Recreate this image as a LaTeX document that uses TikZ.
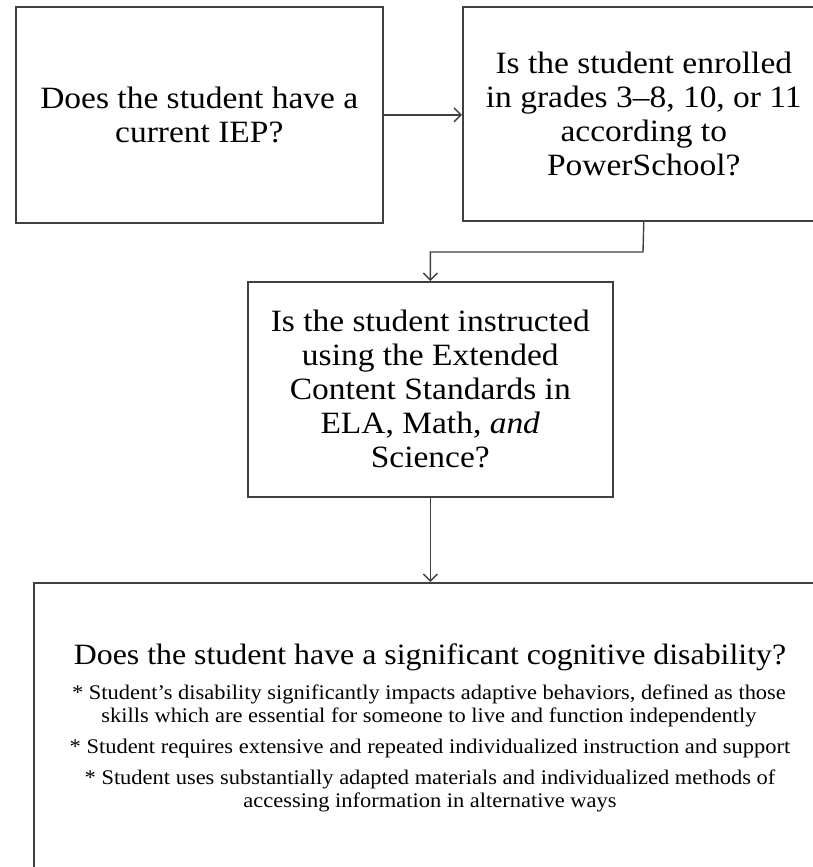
\documentclass[tikz,border=0pt]{standalone}
\usepackage{fontspec}
\setmainfont{Liberation Serif}[FakeStretch=1.08]
\usetikzlibrary{arrows.meta,shadows,calc}
\tikzset{
  qbox/.style={draw=black!75, line width=1.6pt, fill=white, rectangle, inner sep=0pt,
    anchor=north west, align=center,
    font=\fontsize{31}{34}\selectfont,
    drop shadow={shadow xshift=1.6pt, shadow yshift=-1.6pt, fill=black!45, opacity=0.8}},
  qtext/.style={align=center, inner sep=0pt, font=\fontsize{31}{34}\selectfont},
  btext/.style={align=center, inner sep=0pt, font=\fontsize{20.8}{22.5}\selectfont},
  arr/.style={draw=black!75, line width=1.4pt, -{Straight Barb[length=7pt,width=14pt]}},
}
\begin{document}
\begin{tikzpicture}[x=1pt,y=-1pt]
\useasboundingbox (0,0) rectangle (813,867);
\node[qbox, minimum width=367pt, minimum height=216pt] (b1) at (15,6)
  {Does the student have a\\current IEP?};
\node[qbox, minimum width=362pt, minimum height=214pt] (b2) at (462,6)
  {Is the student enrolled\\in grades 3–8, 10, or 11\\according to\\PowerSchool?};
\node[qbox, minimum width=365pt, minimum height=215pt] (b3) at (247,281)
  {Is the student instructed\\using the Extended\\Content Standards in\\ELA, Math, \textit{and}\\Science?};
\node[qbox, minimum width=800pt, minimum height=320pt] (b4) at (33,582) {};
\node[qtext, font=\fontsize{29.5}{34}\selectfont] (t4) at (430,657)
  {Does the student have a significant cognitive disability?};
\node[btext] (p1) at (429,706)
  {* Student's disability significantly impacts adaptive behaviors, defined as those\\skills which are essential for someone to live and function independently};
\node[btext] (p2) at (430,748)
  {* Student requires extensive and repeated individualized instruction and support};
\node[btext] (p3) at (430,791)
  {* Student uses substantially adapted materials and individualized methods of\\accessing information in alternative ways};
\coordinate (bend) at (643,252);
\draw[arr] (b1.east) -- (b1.east -| b2.west);
\draw[arr] (b2.south) -- (bend) -| (b3.north);
\draw[arr] (b3.south) -- (b3.south |- b4.north);
\end{tikzpicture}
\end{document}
